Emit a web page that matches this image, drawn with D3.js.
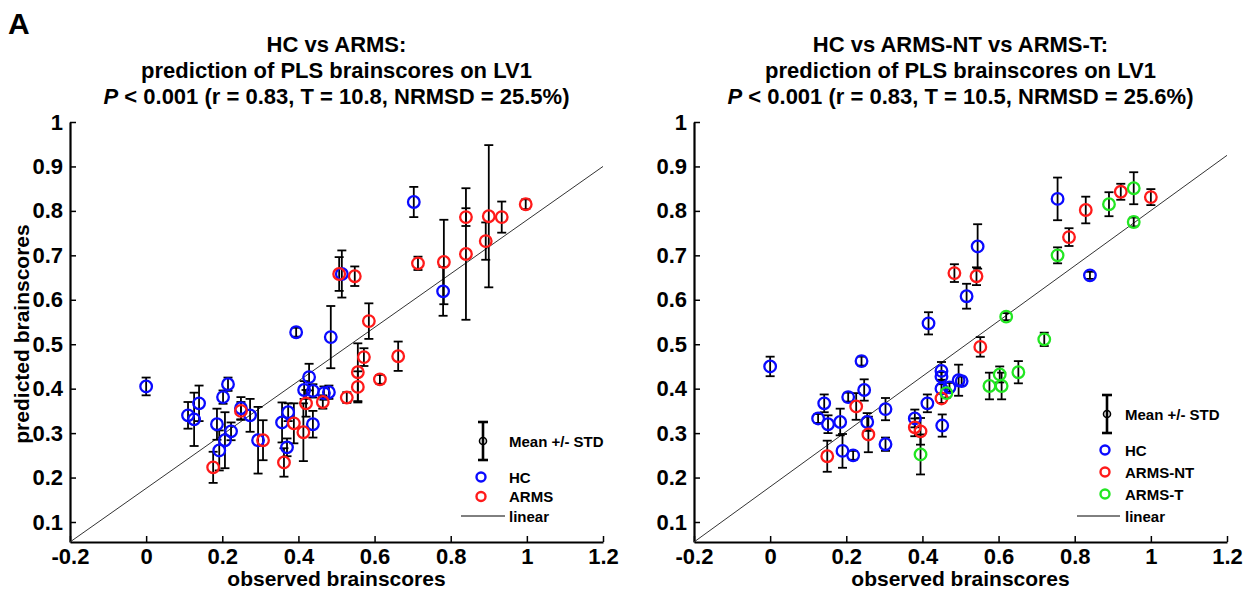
<!DOCTYPE html>
<html>
<head>
<meta charset="utf-8">
<script src="https://cdn.jsdelivr.net/npm/d3@7"></script>
<style>
  body { margin: 0; background: #fff; }
  text { font-family: "Liberation Sans", Arial, Helvetica, sans-serif; font-weight: bold; fill: #000; }
</style>
</head>
<body>
<svg id="fig" width="1251" height="595"></svg>
<script>
// ---- data: [observed, predicted, std] ----
const hcLeft = [
  [0.0, 0.405, 0.02], [0.11, 0.34, 0.03], [0.126, 0.331, 0.06], [0.139, 0.367, 0.04],
  [0.186, 0.32, 0.035], [0.192, 0.261, 0.045], [0.202, 0.381, 0.015], [0.215, 0.41, 0.015],
  [0.207, 0.284, 0.063], [0.223, 0.304, 0.02], [0.249, 0.356, 0.025], [0.273, 0.34, 0.037],
  [0.294, 0.284, 0.075], [0.357, 0.324, 0.045], [0.373, 0.347, 0.02], [0.37, 0.268, 0.02],
  [0.394, 0.527, 0.01], [0.415, 0.397, 0.02], [0.428, 0.426, 0.03], [0.438, 0.395, 0.015],
  [0.438, 0.32, 0.03], [0.467, 0.39, 0.015], [0.48, 0.392, 0.015], [0.485, 0.516, 0.07],
  [0.514, 0.658, 0.053], [0.703, 0.82, 0.034], [0.78, 0.619, 0.055]
];
const armsLeft = [
  [0.176, 0.223, 0.035], [0.249, 0.35, 0.02], [0.307, 0.284, 0.045], [0.362, 0.234, 0.032],
  [0.388, 0.322, 0.045], [0.413, 0.302, 0.065], [0.42, 0.367, 0.03], [0.464, 0.37, 0.015],
  [0.527, 0.38, 0.012], [0.507, 0.658, 0.038], [0.548, 0.653, 0.022], [0.556, 0.404, 0.035],
  [0.556, 0.437, 0.065], [0.572, 0.471, 0.02], [0.585, 0.552, 0.04], [0.614, 0.421, 0.01],
  [0.662, 0.473, 0.033], [0.714, 0.682, 0.015], [0.782, 0.685, 0.095], [0.84, 0.786, 0.02],
  [0.84, 0.703, 0.148], [0.892, 0.732, 0.042], [0.9, 0.788, 0.16], [0.934, 0.786, 0.035],
  [0.997, 0.815, 0.011]
];
const hcRight = [
  [0.0, 0.45, 0.022], [0.126, 0.333, 0.01], [0.142, 0.367, 0.02], [0.152, 0.32, 0.02],
  [0.184, 0.325, 0.03], [0.19, 0.26, 0.038], [0.205, 0.381, 0.01], [0.218, 0.25, 0.01],
  [0.24, 0.462, 0.01], [0.247, 0.397, 0.024], [0.255, 0.325, 0.02], [0.303, 0.354, 0.025],
  [0.303, 0.275, 0.015], [0.38, 0.333, 0.02], [0.413, 0.367, 0.02], [0.416, 0.547, 0.025],
  [0.45, 0.4, 0.01], [0.45, 0.44, 0.02], [0.45, 0.427, 0.01], [0.452, 0.317, 0.025],
  [0.471, 0.403, 0.01], [0.495, 0.419, 0.035], [0.503, 0.417, 0.01], [0.516, 0.608, 0.028],
  [0.545, 0.72, 0.05], [0.755, 0.827, 0.048], [0.84, 0.655, 0.008]
];
const armsNtRight = [
  [0.15, 0.248, 0.035], [0.226, 0.36, 0.03], [0.258, 0.297, 0.04], [0.38, 0.313, 0.02],
  [0.395, 0.304, 0.03], [0.45, 0.378, 0.01], [0.484, 0.66, 0.02], [0.542, 0.653, 0.02],
  [0.552, 0.494, 0.022], [0.785, 0.741, 0.02], [0.829, 0.802, 0.03], [0.921, 0.843, 0.018],
  [1.0, 0.831, 0.018]
];
const armsTRight = [
  [0.395, 0.252, 0.045], [0.463, 0.39, 0.01], [0.576, 0.406, 0.03], [0.603, 0.432, 0.018],
  [0.608, 0.406, 0.03], [0.62, 0.562, 0.008], [0.652, 0.437, 0.025], [0.72, 0.511, 0.015],
  [0.755, 0.7, 0.018], [0.89, 0.815, 0.027], [0.955, 0.851, 0.036], [0.955, 0.775, 0.01]
];
// fitted lines: [observed, predicted] at the ends of the x range
const fitLeft = [[-0.2, 0.055], [1.2, 0.9]];
const fitRight = [[-0.2, 0.055], [1.2, 0.925]];

const xTicks = [-0.2, 0, 0.2, 0.4, 0.6, 0.8, 1, 1.2];
const yTicks = [0.1, 0.2, 0.3, 0.4, 0.5, 0.6, 0.7, 0.8, 0.9, 1];
const xDomain = [-0.2, 1.2];
const yDomain = [0.055, 1];

const titlesLeft = ['HC vs ARMS:', 'prediction of PLS brainscores on LV1', ' < 0.001 (r = 0.83, T = 10.8, NRMSD = 25.5%)'];
const titlesRight = ['HC vs ARMS-NT vs ARMS-T:', 'prediction of PLS brainscores on LV1', ' < 0.001 (r = 0.83, T = 10.5, NRMSD = 25.6%)'];

const svg = d3.select('#fig');

svg.append('text')
  .attr('x', 8).attr('y', 34)
  .style('font-size', '30px')
  .text('A');

const drawPanel = (p) => {
  const x = d3.scaleLinear().domain(xDomain).range([p.left, p.left + 533]);
  const y = d3.scaleLinear().domain(yDomain).range([542, 122]);
  const g = svg.append('g');

  // titles
  const cx = p.left + 266.5;
  p.titles.forEach((t, i) => {
    const tx = g.append('text')
      .attr('x', cx).attr('y', 52 + i * 26)
      .attr('text-anchor', 'middle')
      .style('font-size', '22px');
    if (i === 2) {
      tx.append('tspan').style('font-style', 'italic').text('P');
    }
    tx.append('tspan').text(t);
  });

  // axes
  const xAxis = d3.axisBottom(x).tickValues(xTicks).tickFormat(d => String(d))
    .tickSizeInner(-6).tickSizeOuter(0).tickPadding(6);
  const yAxis = d3.axisLeft(y).tickValues(yTicks).tickFormat(d => String(d))
    .tickSizeInner(-6).tickSizeOuter(0).tickPadding(7);

  const gx = g.append('g').attr('transform', 'translate(0,542)').call(xAxis);
  const gy = g.append('g').attr('transform', `translate(${p.left},0)`).call(yAxis);
  [gx, gy].forEach(a => {
    a.select('.domain').attr('stroke', '#000').attr('stroke-width', 2.2);
    a.selectAll('.tick line').attr('stroke', '#000').attr('stroke-width', 1.5);
    a.selectAll('.tick text')
      .style('font-family', '"Liberation Sans", Arial, sans-serif')
      .style('font-weight', 'bold')
      .style('font-size', '22px')
      .attr('fill', '#000');
  });

  g.append('text')
    .attr('x', cx).attr('y', 586)
    .attr('text-anchor', 'middle')
    .style('font-size', '21px')
    .text('observed brainscores');

  if (p.yTitle) {
    g.append('text')
      .attr('transform', `translate(29,334) rotate(-90)`)
      .attr('text-anchor', 'middle')
      .style('font-size', '21px')
      .text(p.yTitle);
  }

  // fit line
  g.append('path')
    .datum(p.fit)
    .attr('d', d3.line().x(d => x(d[0])).y(d => y(d[1])))
    .attr('stroke', '#333')
    .attr('stroke-width', 1)
    .attr('fill', 'none');

  // error bars
  p.groups.forEach(grp => {
    const eb = g.append('g').selectAll('g').data(grp.data).enter().append('g');
    eb.append('line')
      .attr('x1', d => x(d[0])).attr('x2', d => x(d[0]))
      .attr('y1', d => y(d[1] + d[2])).attr('y2', d => y(d[1] - d[2]))
      .attr('stroke', '#000').attr('stroke-width', 1.8);
    [1, -1].forEach(s => {
      eb.append('line')
        .attr('x1', d => x(d[0]) - 4.5).attr('x2', d => x(d[0]) + 4.5)
        .attr('y1', d => y(d[1] + s * d[2])).attr('y2', d => y(d[1] + s * d[2]))
        .attr('stroke', '#000').attr('stroke-width', 1.8);
    });
  });

  // markers
  p.groups.forEach(grp => {
    g.append('g').selectAll('circle').data(grp.data).enter().append('circle')
      .attr('cx', d => x(d[0])).attr('cy', d => y(d[1]))
      .attr('r', 5.8)
      .attr('fill', 'none')
      .attr('stroke', grp.color)
      .attr('stroke-width', 2.3);
  });

  // legend
  const L = p.legend;
  const lg = g.append('g');
  const rowY = i => L.bottom - (p.groups.length - i) * L.step;
  const meanY = rowY(0) - 36;
  lg.append('line').attr('x1', L.sym).attr('x2', L.sym)
    .attr('y1', meanY - 19).attr('y2', meanY + 19)
    .attr('stroke', '#000').attr('stroke-width', 2.6);
  [-19, 19].forEach(dy => {
    lg.append('line').attr('x1', L.sym - 5).attr('x2', L.sym + 5)
      .attr('y1', meanY + dy).attr('y2', meanY + dy)
      .attr('stroke', '#000').attr('stroke-width', 2.6);
  });
  lg.append('circle').attr('cx', L.sym).attr('cy', meanY).attr('r', 3.5)
    .attr('fill', 'none').attr('stroke', '#000').attr('stroke-width', 1.6);
  lg.append('text').attr('x', L.text).attr('y', meanY + 5.5)
    .style('font-size', '15px').text('Mean +/- STD');

  p.groups.forEach((grp, i) => {
    lg.append('circle').attr('cx', L.sym - 2).attr('cy', rowY(i)).attr('r', 4.5)
      .attr('fill', 'none').attr('stroke', grp.color).attr('stroke-width', 2.4);
    lg.append('text').attr('x', L.text).attr('y', rowY(i) + 5.5)
      .style('font-size', '15px').text(grp.name);
  });
  lg.append('line').attr('x1', L.line[0]).attr('x2', L.line[1])
    .attr('y1', L.bottom).attr('y2', L.bottom)
    .attr('stroke', '#000').attr('stroke-width', 1);
  lg.append('text').attr('x', L.text).attr('y', L.bottom + 5.5)
    .style('font-size', '15px').text('linear');
};

drawPanel({
  left: 70,
  titles: titlesLeft,
  yTitle: 'predicted brainscores',
  fit: fitLeft,
  groups: [
    { name: 'HC', color: '#0a0aff', data: hcLeft },
    { name: 'ARMS', color: '#ff1a1a', data: armsLeft }
  ],
  legend: { sym: 483, text: 509, line: [461, 505], bottom: 516, step: 19.5 }
});

drawPanel({
  left: 694,
  titles: titlesRight,
  yTitle: null,
  fit: fitRight,
  groups: [
    { name: 'HC', color: '#0a0aff', data: hcRight },
    { name: 'ARMS-NT', color: '#ff1a1a', data: armsNtRight },
    { name: 'ARMS-T', color: '#22e622', data: armsTRight }
  ],
  legend: { sym: 1107, text: 1125, line: [1077, 1120], bottom: 516, step: 22 }
});
</script>
</body>
</html>
